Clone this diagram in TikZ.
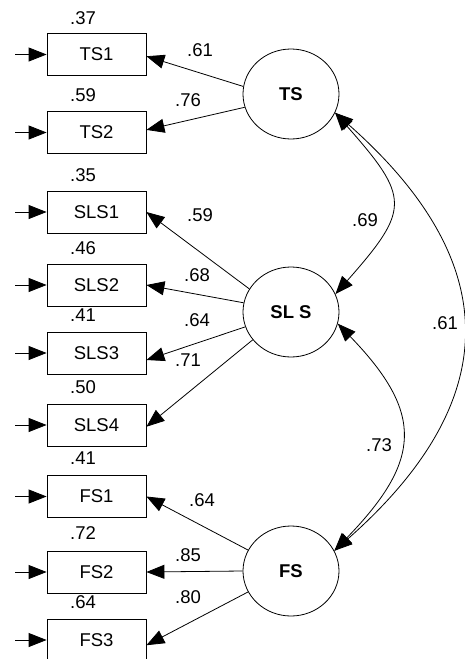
\documentclass[tikz,border=0pt]{standalone}
\usepackage{fontspec}
\setmainfont{Liberation Sans}
\usetikzlibrary{shapes.geometric,arrows.meta}
\begin{document}
\begin{tikzpicture}[x=1pt,y=-1pt,
  font=\fontsize{18.5}{20}\selectfont,
  obs/.style={draw, line width=0.8pt, minimum width=99pt, minimum height=42pt, inner sep=0pt},
  lat/.style={draw, ellipse, line width=0.8pt, minimum width=96pt, minimum height=90pt, inner sep=0pt, font=\fontsize{18.5}{20}\selectfont\bfseries},
  tip/.tip={Triangle[length=18pt,width=14pt]},
  arr/.style={line width=0.8pt, -tip},
  darr/.style={line width=0.8pt, tip-tip},
  num/.style={inner sep=0pt}]
\useasboundingbox (0,0) rectangle (465,659);

% observed variables
\node[obs] (TS1) at (96.5,54.5) {TS1};
\node[obs] (TS2) at (96.5,132.5) {TS2};
\node[obs] (SLS1) at (96.5,212) {SLS1};
\node[obs] (SLS2) at (96.5,285) {SLS2};
\node[obs] (SLS3) at (96.5,353) {SLS3};
\node[obs] (SLS4) at (96.5,425) {SLS4};
\node[obs] (FS1) at (96.5,496.5) {FS1};
\node[obs] (FS2) at (96.5,572) {FS2};
\node[obs] (FS3) at (96.5,640) {FS3};

% latent variables
\node[lat] (TS) at (291,94) {TS};
\node[lat] (SLS) at (291,312) {SL S};
\node[lat] (FS) at (291,571) {FS};

% error inputs
\coordinate (e1) at (15,54.5);
\coordinate (e2) at (15,132.5);
\coordinate (e3) at (15,212);
\coordinate (e4) at (15,285);
\coordinate (e5) at (15,353);
\coordinate (e6) at (15,425);
\coordinate (e7) at (15,496.5);
\coordinate (e8) at (15,572);
\coordinate (e9) at (15,640);
\draw[arr] (e1) -- (TS1.west);
\draw[arr] (e2) -- (TS2.west);
\draw[arr] (e3) -- (SLS1.west);
\draw[arr] (e4) -- (SLS2.west);
\draw[arr] (e5) -- (SLS3.west);
\draw[arr] (e6) -- (SLS4.west);
\draw[arr] (e7) -- (FS1.west);
\draw[arr] (e8) -- (FS2.west);
\draw[arr] (e9) -- (FS3.west);

% loadings
\draw[arr] (TS.171) -- (TS1.-2);
\draw[arr] (TS.196) -- (TS2.3);
\draw[arr] (SLS.151) -- (SLS1.east);
\draw[arr] (SLS.169) -- (SLS2.east);
\draw[arr] (SLS.198) -- (SLS3.-8);
\draw[arr] (SLS.216) -- (SLS4.-2);
\draw[arr] (FS.154) -- (FS1.east);
\draw[arr] (FS.180) -- (FS2.east);
\draw[arr] (FS.206) -- (FS3.-6);

% covariances
\draw[darr] (TS.-23) .. controls +(75,85) and +(75,-85) .. (SLS.22);
\draw[darr] (SLS.-14) .. controls +(87,90) and +(87,-90) .. (FS.25);
\draw[darr] (TS.-23) .. controls +(170,150) and +(170,-150) .. (FS.25);

% squared multiple correlations
\node[num] (r1) at (83,18) {.37};
\node[num] (r2) at (83,95) {.59};
\node[num] (r3) at (83,175) {.35};
\node[num] (r4) at (83,248) {.46};
\node[num] (r5) at (83,315) {.41};
\node[num] (r6) at (83,387) {.50};
\node[num] (r7) at (83,458) {.41};
\node[num] (r8) at (83,533) {.72};
\node[num] (r9) at (83,602) {.64};

% loading labels
\node[num] (l1) at (200,50) {.61};
\node[num] (l2) at (188,100) {.76};
\node[num] (l3) at (200,215) {.59};
\node[num] (l4) at (197,275) {.68};
\node[num] (l5) at (197,320) {.64};
\node[num] (l6) at (188,360) {.71};
\node[num] (l7) at (202,500) {.64};
\node[num] (l8) at (188,555) {.85};
\node[num] (l9) at (188,597) {.80};

% covariance labels
\node[num] (c1) at (365,220) {.69};
\node[num] (c2) at (379,445) {.73};
\node[num] (c3) at (445,323) {.61};
\end{tikzpicture}
\end{document}
